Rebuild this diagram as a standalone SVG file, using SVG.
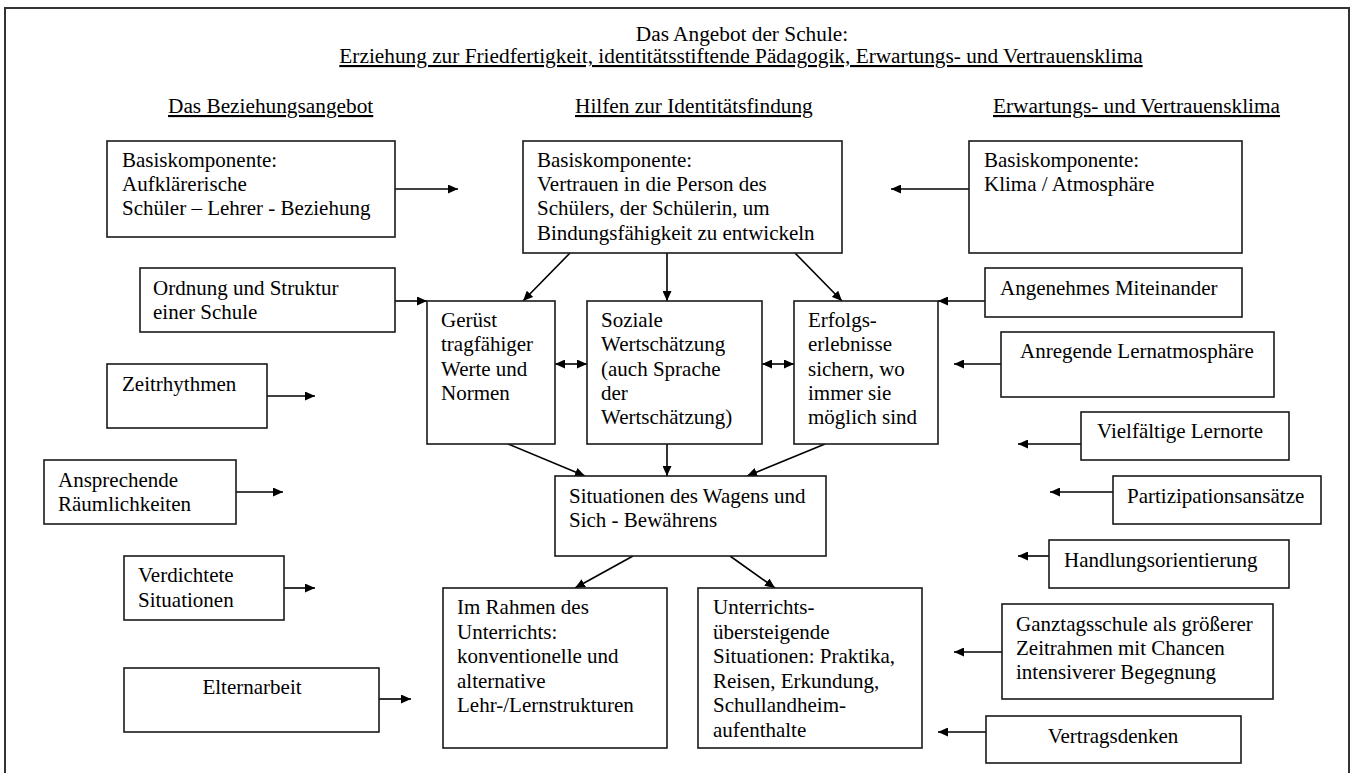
<svg xmlns="http://www.w3.org/2000/svg" width="1358" height="773" viewBox="0 0 1358 773">
<defs>
<marker id="ah" markerUnits="userSpaceOnUse" markerWidth="11" markerHeight="9" refX="10" refY="4.5" orient="auto-start-reverse">
<path d="M0,0 L10,4.5 L0,9 z" fill="#000"/>
</marker>
<style>
text{font-family:"Liberation Serif","Times New Roman",serif;font-size:21px;fill:#000}
.h{font-size:21.3px;text-decoration:underline}
.t{font-size:21.3px}
.b{fill:#fff;stroke:#1a1a1a;stroke-width:1.6}
.c line{stroke:#000;stroke-width:1.6;marker-end:url(#ah)}
.c line.d{marker-start:url(#ah)}
.m{text-anchor:middle}
</style>
</defs>
<rect x="0" y="0" width="1358" height="773" fill="#fff"/>
<rect x="5" y="8" width="1344" height="775" fill="none" stroke="#333" stroke-width="2"/>
<g id="header">
<text class="t m" x="742" y="41">Das Angebot der Schule:</text>
<text class="h m" x="741" y="63">Erziehung zur Friedfertigkeit, identitätsstiftende Pädagogik, Erwartungs- und Vertrauensklima</text>
<text class="h" x="168" y="113">Das Beziehungsangebot</text>
<text class="h" x="575" y="113">Hilfen zur Identitätsfindung</text>
<text class="h" x="993" y="113">Erwartungs- und Vertrauensklima</text>
</g>
<g class="c" id="connectors">
<line x1="395" y1="189" x2="458" y2="189"/>
<line x1="969" y1="189" x2="891" y2="189"/>
<line x1="395" y1="301" x2="427" y2="301"/>
<line x1="985" y1="301" x2="938" y2="301"/>
<line x1="267" y1="396" x2="315" y2="396"/>
<line x1="1001" y1="364" x2="954" y2="364"/>
<line x1="570" y1="253" x2="523" y2="301"/>
<line x1="667" y1="253" x2="667" y2="301"/>
<line x1="795" y1="253" x2="842" y2="301"/>
<line class="d" x1="555" y1="364" x2="587" y2="364"/>
<line class="d" x1="762" y1="364" x2="794" y2="364"/>
<line x1="1081" y1="444" x2="1018" y2="444"/>
<line x1="236" y1="492" x2="283" y2="492"/>
<line x1="1113" y1="492" x2="1050" y2="492"/>
<line x1="508" y1="444" x2="585" y2="476"/>
<line x1="667" y1="444" x2="667" y2="476"/>
<line x1="825" y1="444" x2="747" y2="476"/>
<line x1="1049" y1="556" x2="1018" y2="556"/>
<line x1="284" y1="588" x2="315" y2="588"/>
<line x1="633" y1="556" x2="575" y2="588"/>
<line x1="730" y1="556" x2="775" y2="588"/>
<line x1="1002" y1="652" x2="954" y2="652"/>
<line x1="379" y1="699" x2="411" y2="699"/>
<line x1="986" y1="732" x2="938" y2="732"/>
</g>
<g id="n_bez_basis"><rect class="b" x="107" y="141" width="288" height="96"/>
<text x="122" y="167">Basiskomponente:</text><text x="122" y="191">Aufklärerische</text><text x="122" y="215">Schüler – Lehrer - Beziehung</text></g>
<g id="n_id_basis"><rect class="b" x="523" y="141" width="319" height="112"/>
<text x="537" y="167">Basiskomponente:</text><text x="537" y="191">Vertrauen in die Person des</text><text x="537" y="215">Schülers, der Schülerin, um</text><text x="537" y="240">Bindungsfähigkeit zu entwickeln</text></g>
<g id="n_klima"><rect class="b" x="969" y="141" width="273" height="112"/>
<text x="984" y="167">Basiskomponente:</text><text x="984" y="191">Klima / Atmosphäre</text></g>
<g id="n_ordnung"><rect class="b" x="140" y="268" width="255" height="64"/>
<text x="153" y="295">Ordnung und Struktur</text><text x="153" y="319">einer Schule</text></g>
<g id="n_zeit"><rect class="b" x="107" y="364" width="160" height="64"/>
<text x="122" y="391">Zeitrhythmen</text></g>
<g id="n_geruest"><rect class="b" x="427" y="301" width="128" height="143"/>
<text x="441" y="327">Gerüst</text><text x="441" y="351">tragfähiger</text><text x="441" y="376">Werte und</text><text x="441" y="400">Normen</text></g>
<g id="n_soziale"><rect class="b" x="587" y="301" width="175" height="143"/>
<text x="601" y="327">Soziale</text><text x="601" y="351">Wertschätzung</text><text x="601" y="376">(auch Sprache</text><text x="601" y="400">der</text><text x="601" y="424">Wertschätzung)</text></g>
<g id="n_erfolg"><rect class="b" x="794" y="301" width="144" height="143"/>
<text x="808" y="327">Erfolgs-</text><text x="808" y="351">erlebnisse</text><text x="808" y="376">sichern, wo</text><text x="808" y="400">immer sie</text><text x="808" y="424">möglich sind</text></g>
<g id="n_angenehm"><rect class="b" x="985" y="268" width="257" height="49"/>
<text x="1000" y="295">Angenehmes Miteinander</text></g>
<g id="n_anregend"><rect class="b" x="1001" y="332" width="273" height="65"/>
<text x="1020" y="358">Anregende Lernatmosphäre</text></g>
<g id="n_vielf"><rect class="b" x="1081" y="412" width="208" height="48"/>
<text x="1097" y="438">Vielfältige Lernorte</text></g>
<g id="n_ansprech"><rect class="b" x="44" y="460" width="192" height="64"/>
<text x="58" y="487">Ansprechende</text><text x="58" y="511">Räumlichkeiten</text></g>
<g id="n_situation"><rect class="b" x="555" y="476" width="271" height="80"/>
<text x="569" y="503">Situationen des Wagens und</text><text x="569" y="527">Sich - Bewährens</text></g>
<g id="n_partizip"><rect class="b" x="1113" y="476" width="208" height="48"/>
<text x="1127" y="503">Partizipationsansätze</text></g>
<g id="n_handlung"><rect class="b" x="1049" y="540" width="240" height="48"/>
<text x="1064" y="567">Handlungsorientierung</text></g>
<g id="n_verdicht"><rect class="b" x="124" y="556" width="160" height="64"/>
<text x="138" y="582">Verdichtete</text><text x="138" y="607">Situationen</text></g>
<g id="n_rahmen"><rect class="b" x="443" y="588" width="224" height="160"/>
<text x="457" y="614">Im Rahmen des</text><text x="457" y="639">Unterrichts:</text><text x="457" y="663">konventionelle und</text><text x="457" y="688">alternative</text><text x="457" y="712">Lehr-/Lernstrukturen</text></g>
<g id="n_unterricht"><rect class="b" x="698" y="588" width="224" height="160"/>
<text x="713" y="614">Unterrichts-</text><text x="713" y="639">übersteigende</text><text x="713" y="663">Situationen: Praktika,</text><text x="713" y="688">Reisen, Erkundung,</text><text x="713" y="712">Schullandheim-</text><text x="713" y="737">aufenthalte</text></g>
<g id="n_ganztag"><rect class="b" x="1002" y="604" width="271" height="95"/>
<text x="1016" y="631">Ganztagsschule als größerer</text><text x="1016" y="655">Zeitrahmen mit Chancen</text><text x="1016" y="679">intensiverer Begegnung</text></g>
<g id="n_eltern"><rect class="b" x="124" y="668" width="255" height="64"/>
<text class="m" x="252" y="694">Elternarbeit</text></g>
<g id="n_vertrag"><rect class="b" x="986" y="716" width="255" height="47"/>
<text class="m" x="1113" y="743">Vertragsdenken</text></g>
</svg>
